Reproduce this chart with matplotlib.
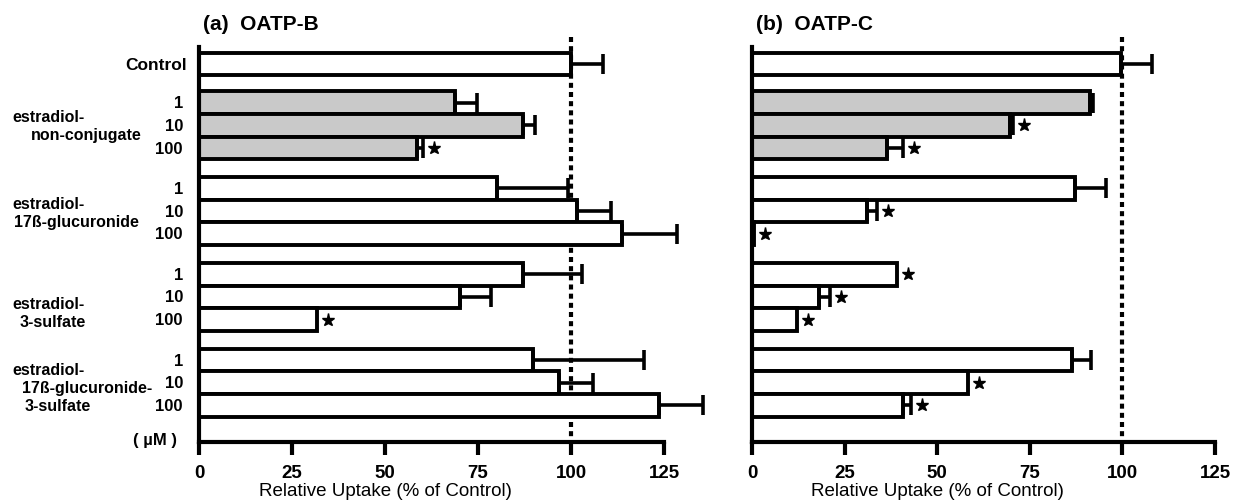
import matplotlib
matplotlib.use('Agg')
import matplotlib.pyplot as plt

plt.rcParams['font.family'] = ['Liberation Sans', 'DejaVu Sans']

# -------------------------------
# Data (relative uptake, % of control)
# -------------------------------

concentrations = ['1', '10', '100']
compound_lines = [
    ['estradiol-', 'non-conjugate'],
    ['estradiol-', '17ß-glucuronide'],
    ['estradiol-', '3-sulfate'],
    ['estradiol-', '17ß-glucuronide-', '3-sulfate'],
]
compound_fill = ['#c9c9c9', 'white', 'white', 'white']

# order: Control, then each compound at 1, 10, 100 uM
oatpb_mean = [100, 68.8, 87.1, 58.6, 80.1, 101.6, 113.7, 87.1, 70.2, 31.7, 89.8, 96.8, 123.7]
oatpb_err = [8.6, 6.0, 3.2, 1.6, 19.1, 9.2, 14.8, 15.8, 8.3, 0, 29.8, 9.1, 11.8]
oatpb_sig = [0, 0, 0, 1, 0, 0, 0, 0, 0, 1, 0, 0, 0]

oatpc_mean = [99.5, 91.2, 69.6, 36.4, 87.2, 31.0, 0.5, 39.1, 18.1, 12.1, 86.4, 58.3, 40.8]
oatpc_err = [8.5, 0.8, 0.9, 4.4, 8.4, 2.8, 0, 0, 2.9, 0, 5.1, 0, 2.2]
oatpc_sig = [0, 0, 1, 1, 0, 1, 1, 1, 1, 1, 0, 1, 1]

# -------------------------------
# Layout of the rows
# -------------------------------

group_gap = 3.78
y_pos = [0.0] + [1.7 + group_gap * k + j for k in range(4) for j in range(3)]
fills = ['white'] + [compound_fill[k] for k in range(4) for j in range(3)]
y_top, y_bottom = -1.19, 16.65
label_start = [0.59, 0.67, 1.27, 0.42]
label_indent = [[12, 31], [12, 14], [12, 20], [12, 22, 25]]

fig = plt.figure(figsize=(12.43, 5.02), dpi=100)
ax_a = fig.add_axes([199 / 1243, 1 - 443 / 502, 465 / 1243, 405 / 502])
ax_b = fig.add_axes([752 / 1243, 1 - 443 / 502, 463 / 1243, 405 / 502])


def draw_panel(ax, mean, err, sig):
    ax.plot([100, 100], [y_top, y_bottom], color='black', lw=3,
            linestyle=(0, (1.2, 1.0)), zorder=1, clip_on=False)
    ax.barh(y_pos, mean, height=1.0, color=fills, edgecolor='black',
            linewidth=2.8, zorder=2)
    for x, y, e in zip(mean, y_pos, err):
        if e > 0:
            ax.errorbar([x], [y], xerr=[[0], [e]], fmt='none', ecolor='black',
                        elinewidth=2.6, capsize=7.2, capthick=2.6, zorder=3,
                        clip_on=False)
    for x, y, e, s in zip(mean, y_pos, err, sig):
        if s:
            ax.plot(x + e + 3, y, marker='*', ms=9.5, color='black',
                    ls='none', zorder=4, clip_on=False)

    ax.set_xlim(0, 125)
    ax.set_ylim(y_bottom, y_top)
    ax.spines['top'].set_visible(False)
    ax.spines['right'].set_visible(False)
    ax.spines['left'].set_linewidth(3)
    ax.spines['bottom'].set_linewidth(3)
    ax.spines['left'].set_bounds(-0.75, y_bottom)
    ax.set_yticks([])
    ax.set_xticks([0, 25, 50, 75, 100, 125])
    ax.tick_params(axis='x', length=9.5, width=3, pad=6, labelsize=13.5)
    for lbl in ax.get_xticklabels():
        lbl.set_fontweight('bold')
    ax.set_xlabel('Relative Uptake (% of Control)', fontsize=13.5)
    ax.xaxis.set_label_coords(0.4, -0.13)
    ax.xaxis.label.set_verticalalignment('baseline')


draw_panel(ax_a, oatpb_mean, oatpb_err, oatpb_sig)
draw_panel(ax_b, oatpc_mean, oatpc_err, oatpc_sig)

# -------------------------------
# Row labels on panel (a)
# -------------------------------

ytrans = ax_a.get_yaxis_transform()
ax_a.text(-12 / 465, y_pos[0], 'Control', transform=ytrans, ha='right',
          va='center', fontsize=12.5, fontweight='bold')
for k in range(4):
    first = y_pos[1 + 3 * k]
    for j, c in enumerate(concentrations):
        ax_a.text(-16 / 465, first + j, c, transform=ytrans, ha='right',
                  va='center', fontsize=12, fontweight='bold')
    for i, line in enumerate(compound_lines[k]):
        ax_a.text((label_indent[k][i] - 199) / 465, first + label_start[k] + 0.8 * i,
                  line, transform=ytrans, ha='left', va='center',
                  fontsize=11.5, fontweight='bold')
ax_a.text(-22 / 465, 16.55, '( µM )', transform=ytrans, ha='right',
          va='center', fontsize=12, fontweight='bold')

# -------------------------------
# Panel titles
# -------------------------------

fig.text(203 / 1243, 1 - 30 / 502, '(a)  OATP-B', fontsize=15,
         fontweight='bold', va='baseline')
fig.text(756 / 1243, 1 - 30 / 502, '(b)  OATP-C', fontsize=15,
         fontweight='bold', va='baseline')

fig.savefig('out.png', dpi=100)
